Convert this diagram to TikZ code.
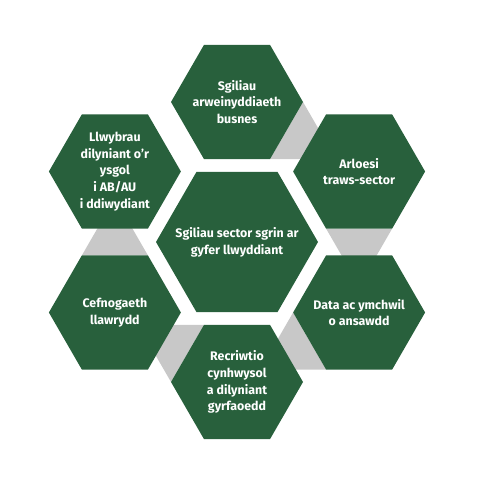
\documentclass[tikz,border=0pt]{standalone}
\usepackage{fontspec}
\setmainfont{Fira Sans}
\usetikzlibrary{shapes.geometric,calc}
\definecolor{hexgreen}{RGB}{40,96,60}
\definecolor{trigray}{RGB}{200,200,200}
\begin{document}
\begin{tikzpicture}[x=1pt,y=1pt,
  hexo/.style={regular polygon, regular polygon sides=6, minimum size=132pt, inner sep=0pt, outer sep=0pt, fill=hexgreen, draw=none},
  hexc/.style={hexo, minimum size=162pt},
  txt/.style={text=white, font=\bfseries\fontsize{12.4}{16.8}\selectfont, align=center, inner sep=0pt},
  gtri/.style={fill=trigray, draw=none}]
\useasboundingbox (0,0) rectangle (500,484);
\coordinate (C) at (237,242);
\coordinate (pT) at ($(C)+(90:140)$);
\coordinate (pUR) at ($(C)+(30:141)$);
\coordinate (pLR) at ($(C)+(-30:141)$);
\coordinate (pB) at ($(C)+(-90:140)$);
\coordinate (pLL) at ($(C)+(-150:141)$);
\coordinate (pUL) at ($(C)+(150:141)$);
% gray connector triangles
\foreach \p/\d [evaluate=\d as \da using \d+30, evaluate=\d as \db using \d-30] in {pT/-30, pUR/-90, pLR/-150, pB/150, pLL/90}
  \fill[gtri] ($(\p)+(\da:66)$) -- ($(\p)+(\db:66)$) -- ($(\p)+(\d:114.3)$) -- cycle;
% hexagons
\node[hexc] (hC) at (C) {};
\node[hexo] (hT) at (pT) {};
\node[hexo] (hUR) at (pUR) {};
\node[hexo] (hLR) at (pLR) {};
\node[hexo] (hB) at (pB) {};
\node[hexo] (hLL) at (pLL) {};
\node[hexo] (hUL) at (pUL) {};
% texts
\node[txt] (tC) at (hC) {Sgiliau sector sgrin ar\\gyfer llwyddiant};
\node[txt] (tT) at (hT) {Sgiliau\\arweinyddiaeth\\busnes};
\node[txt] (tUR) at (hUR) {Arloesi\\traws-sector};
\node[txt] (tLR) at (hLR) {Data ac ymchwil\\o ansawdd};
\node[txt] (tB) at (hB) {Recriwtio\\cynhwysol\\a dilyniant\\gyrfaoedd};
\node[txt] (tLL) at (hLL) {Cefnogaeth\\llawrydd};
\node[txt] (tUL) at (hUL) {Llwybrau\\dilyniant o'r\\ysgol\\i AB/AU\\i ddiwydiant};
\end{tikzpicture}
\end{document}
